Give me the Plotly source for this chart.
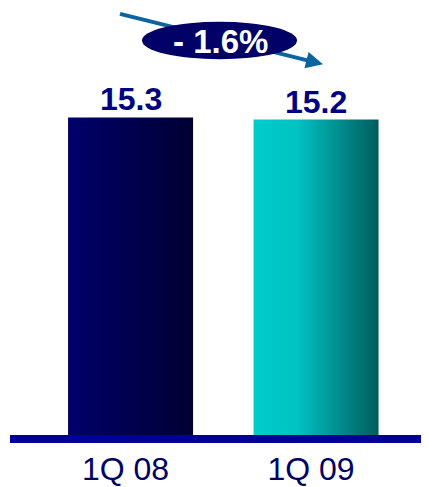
import math
import plotly.graph_objects as go

categories = ["1Q 08", "1Q 09"]
values = [15.3, 15.2]
value_labels = ["15.3", "15.2"]
change_label = "- 1.6%"
gradients = [
    [[0, "#00006A"], [1, "#000033"]],
    [[0, "#00CCCC"], [0.35, "#00C2C2"], [1, "#005C5C"]],
]

OFF = 8  # page body margin offset
W, H = 429 - OFF, 487 - OFF
ML, MR, MT, MB = 2, 0, 0, 46
PW, PH = W - ML - MR, H - MT - MB
bar_w = 0.674
FONT = "Liberation Sans, Arial"

def px(x):
    return (x - OFF - ML) / PW

def py(y):
    return (MT + PH - (y - OFF)) / PH

fig = go.Figure()
for i, (cat, v) in enumerate(zip(categories, values)):
    x0, x1 = i - bar_w / 2, i + bar_w / 2
    fig.add_trace(go.Scatter(
        x=[x0, x1, x1, x0, x0], y=[0, 0, v, v, 0],
        mode="lines", fill="toself", line=dict(width=0),
        fillgradient=dict(type="horizontal", colorscale=gradients[i]),
        hoverinfo="skip", showlegend=False, name=cat,
    ))
    fig.add_annotation(x=i, y=v, text=f"<b>{value_labels[i]}</b>", showarrow=False,
                       xanchor="center", yanchor="bottom", yshift=-2,
                       font=dict(family=FONT, size=32, color="#000080"))

shapes = []
# baseline
shapes.append(dict(type="rect", xref="paper", x0=0, x1=1, yref="paper",
                   y0=0, y1=-8 / PH, fillcolor="#000099", line=dict(width=0), layer="above"))
# arrow line + head (reference pixel geometry converted to paper)
tail = (120, 14)
tip = (323, 65)
dx, dy = tip[0] - tail[0], tip[1] - tail[1]
L = math.hypot(dx, dy)
ux, uy = dx / L, dy / L
hl, hw = 17, 8.5
bx, by = tip[0] - hl * ux, tip[1] - hl * uy
p1 = (bx - hw * uy, by + hw * ux)
p2 = (bx + hw * uy, by - hw * ux)
shapes.append(dict(type="line", xref="paper", yref="paper",
                   x0=px(tail[0]), y0=py(tail[1]), x1=px(bx + 2 * ux), y1=py(by + 2 * uy),
                   line=dict(color="#0a64a0", width=4)))
shapes.append(dict(type="path", xref="paper", yref="paper",
                   path=f"M {px(tip[0])} {py(tip[1])} L {px(p1[0])} {py(p1[1])} L {px(p2[0])} {py(p2[1])} Z",
                   fillcolor="#0a64a0", line=dict(width=0)))
# ellipse
shapes.append(dict(type="circle", xref="paper", yref="paper",
                   x0=px(142), x1=px(297), y0=py(60), y1=py(22),
                   fillcolor="#000066", line=dict(width=0)))
fig.add_annotation(xref="paper", yref="paper", x=px(220), y=py(42), text=f"<b>{change_label}</b>",
                   showarrow=False, xanchor="center", yanchor="middle",
                   font=dict(family=FONT, size=33, color="white"))

fig.update_layout(
    width=W, height=H, margin=dict(l=ML, r=MR, t=MT, b=MB),
    plot_bgcolor="white", paper_bgcolor="white", shapes=shapes,
    xaxis=dict(range=[-0.65, 1.609], tickvals=list(range(len(categories))), ticktext=categories,
               showgrid=False, zeroline=False, showline=False, ticks="",
               ticklabelshift=-5, ticklabelstandoff=12,
               tickfont=dict(family=FONT, size=32, color="#000066")),
    yaxis=dict(range=[0, 15.3 * PH / 322], visible=False, showgrid=False, zeroline=False),
)
fig.write_html("out.html")
